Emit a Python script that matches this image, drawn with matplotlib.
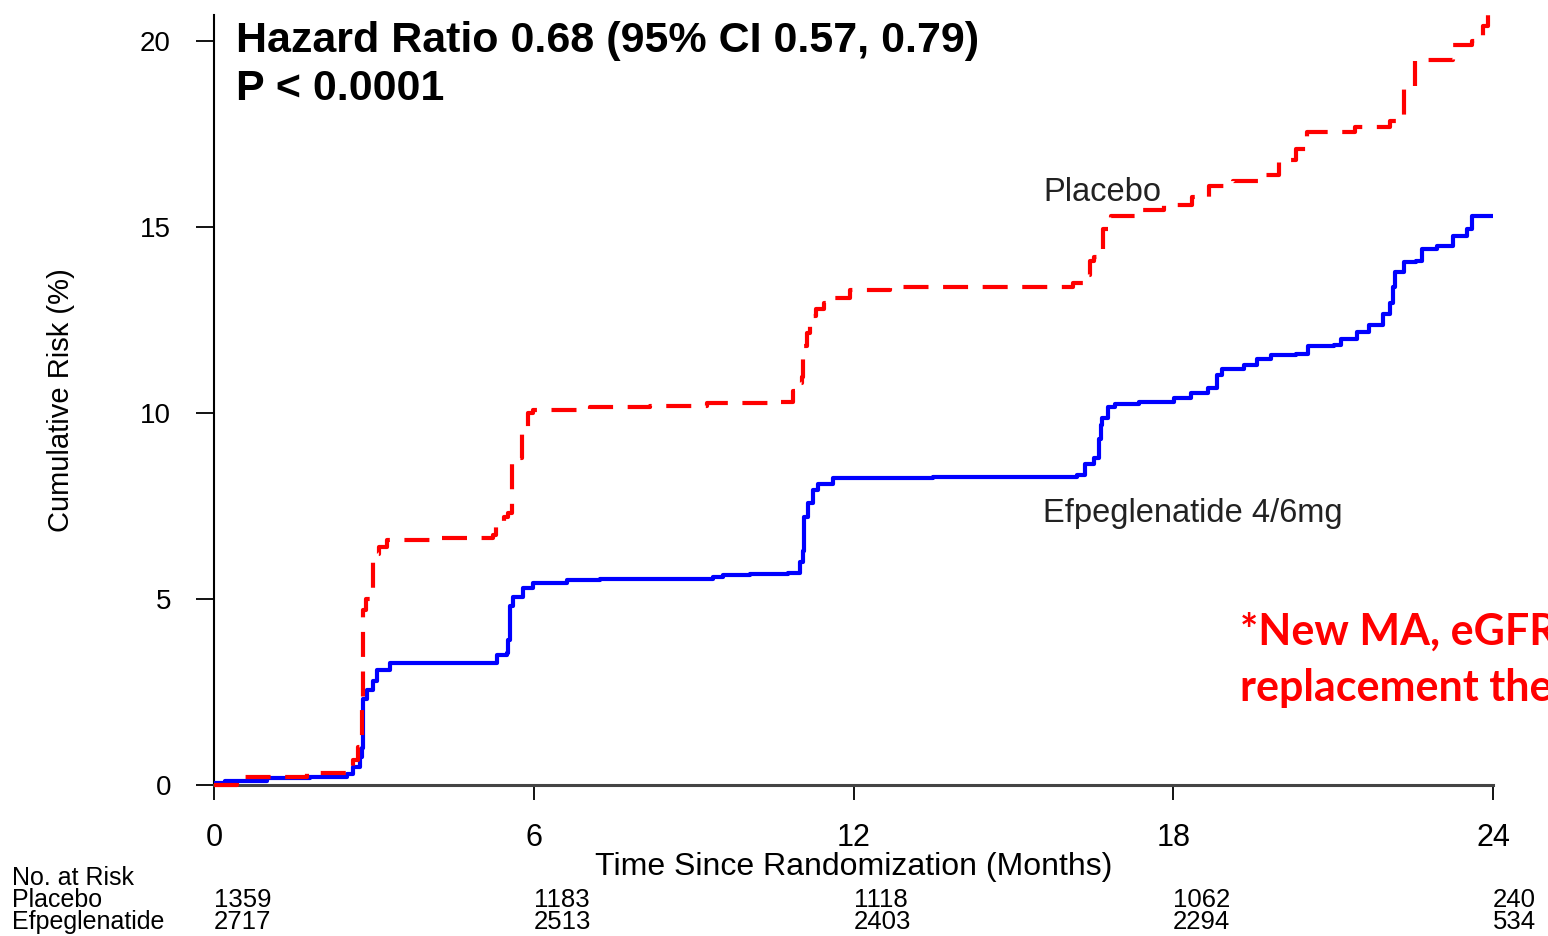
import matplotlib
matplotlib.use('Agg')
import matplotlib.pyplot as plt

plt.rcParams['font.family'] = ['Liberation Sans', 'DejaVu Sans']

# cumulative risk curves (months, %)
months_placebo = [0, 0.43, 1.74, 2.5, 2.6, 2.7, 2.77, 2.8, 2.86, 2.93, 2.99, 3.1, 3.24, 4.2,
                  5.24, 5.3, 5.45, 5.52, 5.59, 5.7, 5.78, 5.89, 5.99, 7.06, 8.18, 9.25, 10.5,
                  10.87, 11.0, 11.03, 11.05, 11.13, 11.18, 11.3, 11.45, 11.56, 11.93, 12.69,
                  16.12, 16.31, 16.44, 16.52, 16.59, 16.68, 16.83, 17.36, 17.83, 18.35, 18.67,
                  19.12, 19.59, 19.98, 20.3, 20.51, 21.41, 22.07, 22.24, 22.33, 22.54, 22.95,
                  23.25, 23.6, 23.81, 23.9, 24.0]
risk_placebo = [0, 0.22, 0.31, 0.35, 0.67, 1.02, 2.37, 4.7, 5.0, 5.3, 6.2, 6.4, 6.58, 6.65,
                6.72, 7.1, 7.2, 7.3, 8.65, 8.8, 9.55, 10.0, 10.08, 10.16, 10.2, 10.27, 10.3,
                10.6, 10.8, 10.97, 11.8, 12.15, 12.6, 12.8, 12.95, 13.1, 13.3, 13.4,
                13.5, 13.7, 14.1, 14.2, 14.4, 14.95, 15.3, 15.45, 15.6, 15.8, 16.1,
                16.25, 16.4, 16.8, 17.1, 17.55, 17.7, 17.85, 17.9, 18.7, 19.5, 19.5,
                19.9, 20.0, 20.4, 20.8, 20.8]

months_efpeg = [0, 0.2, 1.0, 1.8, 2.5, 2.6, 2.74, 2.78, 2.8, 2.87, 2.98, 3.05, 3.3, 5.31,
                5.5, 5.52, 5.55, 5.61, 5.8, 5.99, 6.62, 7.24, 9.36, 9.55, 10.06, 10.77,
                11.0, 11.05, 11.07, 11.15, 11.24, 11.34, 11.62, 13.5, 16.2, 16.34, 16.51,
                16.6, 16.64, 16.67, 16.77, 16.9, 17.36, 18.01, 18.34, 18.66, 18.83, 18.92,
                19.32, 19.58, 19.84, 20.3, 20.53, 21.02, 21.15, 21.45, 21.68, 21.94, 22.07,
                22.13, 22.17, 22.33, 22.56, 22.66, 22.95, 23.25, 23.51, 23.61, 24.0]
risk_efpeg = [0.05, 0.1, 0.19, 0.22, 0.3, 0.48, 0.75, 1.0, 2.3, 2.55, 2.8, 3.1, 3.28, 3.5,
              3.55, 3.9, 4.8, 5.05, 5.3, 5.42, 5.5, 5.55, 5.58, 5.65, 5.68, 5.7,
              6.0, 6.3, 7.2, 7.57, 7.93, 8.1, 8.25, 8.28, 8.33, 8.62, 8.8,
              9.3, 9.68, 9.87, 10.16, 10.25, 10.3, 10.4, 10.54, 10.68, 11.02, 11.17,
              11.3, 11.45, 11.55, 11.6, 11.8, 11.83, 11.98, 12.17, 12.37, 12.65, 12.95,
              13.4, 13.8, 14.05, 14.1, 14.4, 14.5, 14.77, 14.95, 15.3, 15.3]

x_ticks = [0, 6, 12, 18, 24]
y_ticks = [0, 5, 10, 15, 20]
at_risk_placebo = ['1359', '1183', '1118', '1062', '240']
at_risk_efpeg = ['2717', '2513', '2403', '2294', '534']

fig = plt.figure(figsize=(15.48, 9.36), dpi=100)
ax = fig.add_axes([214 / 1548, 1 - 785 / 936, (1493 - 214) / 1548, 770 / 936])

ax.plot(months_efpeg, risk_efpeg, drawstyle='steps-post', color='#0000FF', lw=3, zorder=3)
ax.plot(months_placebo, risk_placebo, drawstyle='steps-post', color='#FF0000', lw=3,
        linestyle=(0, (6, 3.5)), zorder=4, clip_on=False)

ax.set_xlim(0, 24)
ax.set_ylim(0, 20.7)
ax.spines['top'].set_visible(False)
ax.spines['right'].set_visible(False)
ax.spines['left'].set_linewidth(1.5)
ax.spines['bottom'].set_linewidth(2.2)
ax.spines['bottom'].set_color('#444444')

ax.set_xticks(x_ticks)
ax.set_yticks(y_ticks)
ax.tick_params(axis='y', length=13, width=1.3, pad=18, labelsize=20)
ax.tick_params(axis='x', length=11, width=1.3, pad=16, labelsize=22)

ax.set_xlabel('Time Since Randomization (Months)', fontsize=23, labelpad=0)
ax.set_ylabel('Cumulative Risk (%)', fontsize=21, labelpad=47)

ax.text(0.41, 20.0, 'Hazard Ratio 0.68 (95% CI 0.57, 0.79)', fontsize=31,
        fontweight='bold', va='center', ha='left')
ax.text(0.41, 18.72, 'P < 0.0001', fontsize=31, fontweight='bold', va='center', ha='left')

ax.text(15.56, 15.94, 'Placebo', fontsize=23.5, color='#222222', va='center')
ax.text(15.56, 7.31, 'Efpeglenatide 4/6mg', fontsize=23.5, color='#222222', va='center')

# number at risk table
fig.text(12 / 1548, 1 - 878 / 936, 'No. at Risk', fontsize=18, va='center')
fig.text(12 / 1548, 1 - 900 / 936, 'Placebo', fontsize=18, va='center')
fig.text(12 / 1548, 1 - 922 / 936, 'Efpeglenatide', fontsize=18, va='center')
trans = ax.get_xaxis_transform()
for t, a, b in zip(x_ticks, at_risk_placebo, at_risk_efpeg):
    ax.text(t, (785 - 900) / 770, a, fontsize=18.5, va='center', transform=trans, clip_on=False)
    ax.text(t, (785 - 922) / 770, b, fontsize=18.5, va='center', transform=trans, clip_on=False)

fig.text(1240 / 1548, 1 - 632 / 936, '*New MA, eGFR <15 or renal', fontsize=31,
         fontweight='bold', color='#FF0000', va='center', family=['Lato', 'DejaVu Sans'])
fig.text(1240 / 1548, 1 - 688 / 936, 'replacement therapy', fontsize=31,
         fontweight='bold', color='#FF0000', va='center', family=['Lato', 'DejaVu Sans'])

fig.savefig('out.png', dpi=100)
